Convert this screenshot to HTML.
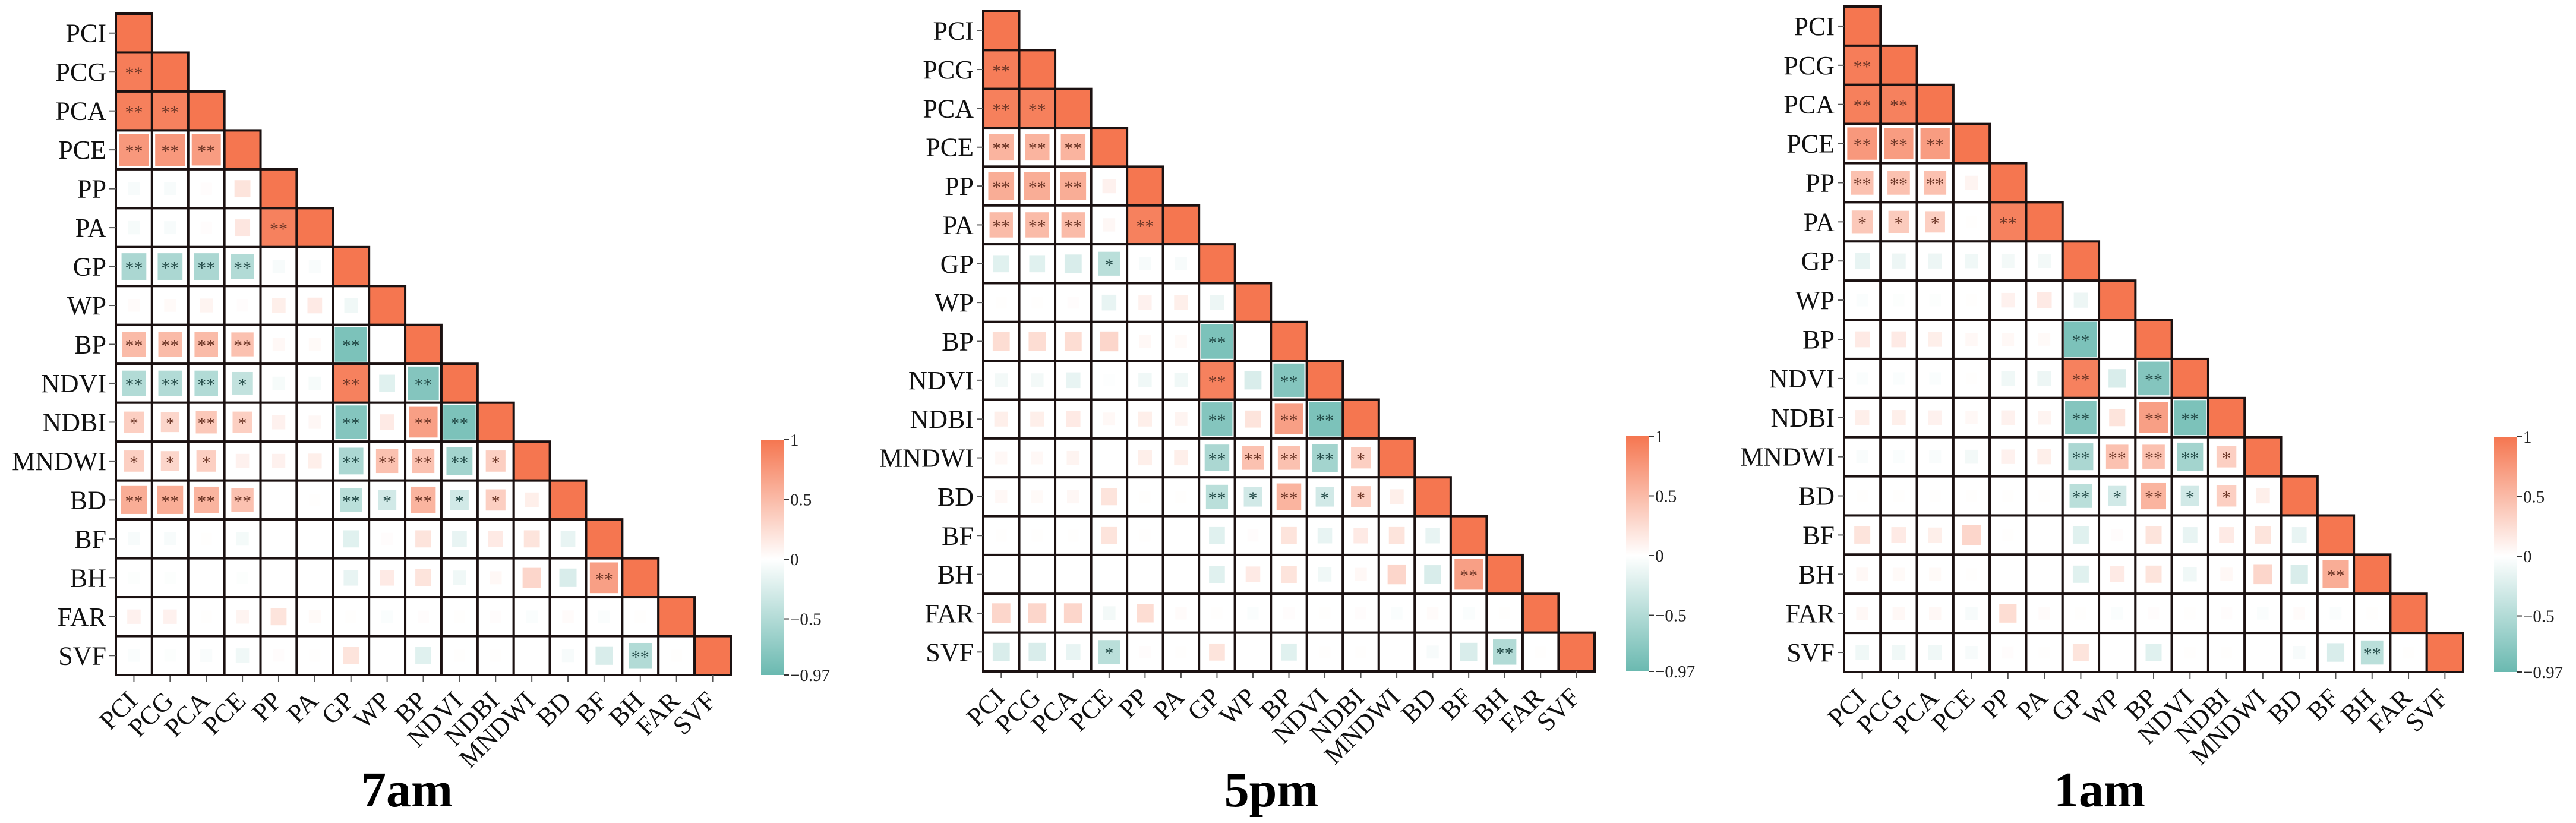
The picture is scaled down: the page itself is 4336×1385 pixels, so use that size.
<!DOCTYPE html>
<html><head><meta charset="utf-8"><style>
html,body{margin:0;padding:0;background:#fff}
svg{display:block}
text{font-family:"Liberation Serif","DejaVu Serif",serif}
</style></head><body>
<svg id="chart" width="4336" height="1385" viewBox="0 0 4336 1385" xmlns="http://www.w3.org/2000/svg">
<defs>
<linearGradient id="cbgrad" x1="0" y1="0" x2="0" y2="1">
<stop offset="0" stop-color="rgb(245,118,80)"/>
<stop offset="0.5076" stop-color="rgb(255,255,255)"/>
<stop offset="1" stop-color="rgb(106,185,176)"/>
</linearGradient>
</defs>
</svg>
<script>
const labels = ["PCI","PCG","PCA","PCE","PP","PA","GP","WP","BP","NDVI","NDBI","MNDWI","BD","BF","BH","FAR","SVF"];
const panelTitles = ["7am","5pm","1am"];
const cbTicks = [1, 0.5, 0, -0.5, -0.97];
const cbTickLabels = ["1","0.5","0","\u22120.5","\u22120.97"];

const vals7am = [
 [],
 [0.95],
 [0.93,0.92],
 [0.75,0.75,0.72],
 [-0.05,-0.05,0.02,0.2],
 [-0.06,-0.05,0.02,0.18,0.92],
 [-0.55,-0.55,-0.55,-0.5,-0.05,-0.04],
 [0.03,0.04,0.08,0.02,0.12,0.15,-0.1],
 [0.5,0.5,0.5,0.45,0.05,0.04,-0.85,0.0],
 [-0.5,-0.5,-0.5,-0.4,-0.06,-0.06,0.92,-0.2,-0.8],
 [0.35,0.3,0.4,0.35,0.1,0.06,-0.8,0.15,0.7,-0.85],
 [0.35,0.3,0.35,0.1,0.1,0.12,-0.55,0.45,0.45,-0.6,0.35],
 [0.6,0.6,0.55,0.45,0.0,0.01,-0.45,-0.3,0.55,-0.3,0.35,0.12],
 [-0.05,-0.05,0.01,-0.07,0.0,0.0,-0.2,0.02,0.2,-0.15,0.15,0.2,-0.15],
 [-0.02,-0.02,0,-0.02,0,0,-0.15,0.15,0.2,-0.1,0.05,0.3,-0.25,0.7],
 [0.1,0.1,0.01,0.08,0.2,0.04,0.01,-0.03,0.02,0.01,0.02,-0.03,0.03,-0.03,0.01],
 [-0.03,-0.02,-0.04,-0.1,0.02,0.01,0.2,0,-0.2,0.01,0.01,0,-0.05,-0.25,-0.5,0.01]
];
const sig7am = [
 "", "**", "** **", "** ** **", "- - - -", "- - - - **",
 "** ** ** ** - -", "- - - - - - -", "** ** ** ** - - ** -",
 "** ** ** * - - ** - **", "* * ** * - - ** - ** **",
 "* * * - - - ** ** ** ** *", "** ** ** ** - - ** * ** * * -",
 "", "- - - - - - - - - - - - - **", "", "- - - - - - - - - - - - - - **"
];
const vals5pm = [
 [],
 [0.95],
 [0.93,0.93],
 [0.55,0.55,0.55],
 [0.6,0.6,0.6,0.1],
 [0.5,0.5,0.5,0.06,0.92],
 [-0.2,-0.2,-0.25,-0.45,-0.05,-0.05],
 [0.01,0.01,0.02,-0.15,0.1,0.12,-0.12],
 [0.25,0.25,0.25,0.3,0.05,0.04,-0.85,0],
 [-0.08,-0.08,-0.15,-0.01,-0.1,-0.1,0.92,-0.25,-0.8],
 [0.12,0.12,0.15,0.05,0.12,0.08,-0.8,0.2,0.7,-0.85],
 [0.05,0.05,0.08,0,0.12,0.12,-0.55,0.45,0.45,-0.6,0.35],
 [0.05,0.04,0.06,0.2,0.01,0.01,-0.45,-0.3,0.55,-0.3,0.35,0.12],
 [0.01,0.01,0.01,0.2,0.01,0,-0.2,0.02,0.2,-0.15,0.15,0.2,-0.15],
 [0,0,0,0,0,0,-0.2,0.15,0.2,-0.1,0.05,0.3,-0.25,0.7],
 [0.3,0.3,0.3,-0.08,0.25,0.03,0.01,-0.03,0.02,0.01,0.02,-0.03,0.03,-0.03,0.01],
 [-0.25,-0.25,-0.15,-0.45,0.02,0.01,0.2,0,-0.2,0.01,0.01,0,-0.05,-0.25,-0.5,0.01]
];
const sig5pm = [
 "", "**", "** **", "** ** **", "** ** ** -", "** ** ** - **",
 "- - - * - -", "", "- - - - - - ** -",
 "- - - - - - ** - **", "- - - - - - ** - ** **",
 "- - - - - - ** ** ** ** *", "- - - - - - ** * ** * * -",
 "", "- - - - - - - - - - - - - **", "", "- - - * - - - - - - - - - - **"
];
const vals1am = [
 [],
 [0.95],
 [0.93,0.92],
 [0.75,0.72,0.72],
 [0.45,0.45,0.45,0.08],
 [0.4,0.38,0.35,0.01,0.92],
 [-0.15,-0.12,-0.12,-0.1,-0.08,-0.08],
 [-0.03,-0.02,-0.02,0.01,0.1,0.15,-0.12],
 [0.15,0.15,0.12,0.05,0.05,0.04,-0.85,0],
 [-0.03,-0.03,-0.03,0.01,-0.1,-0.12,0.92,-0.25,-0.8],
 [0.12,0.12,0.1,0.05,0.1,0.08,-0.8,0.2,0.7,-0.85],
 [-0.04,-0.03,-0.04,-0.08,0.1,0.12,-0.55,0.45,0.45,-0.6,0.35],
 [0.01,0.01,0.01,0.01,0.01,0.01,-0.45,-0.3,0.55,-0.3,0.35,0.12],
 [0.2,0.15,0.12,0.3,0.01,0,-0.2,0.02,0.2,-0.15,0.15,0.2,-0.15],
 [0.05,0.04,0.04,0.01,0,0,-0.2,0.15,0.2,-0.1,0.05,0.3,-0.25,0.6],
 [0.05,0.05,0.05,-0.05,0.25,0.03,0.01,-0.03,0.02,0.01,0.02,-0.03,0.03,-0.03,0.01],
 [-0.1,-0.1,-0.1,-0.05,0.02,0.01,0.2,0,-0.2,0.01,0.01,0,-0.05,-0.25,-0.45,0.01]
];
const sig1am = [
 "", "**", "** **", "** ** **", "** ** ** -", "* * * - **",
 "", "", "- - - - - - ** -",
 "- - - - - - ** - **", "- - - - - - ** - ** **",
 "- - - - - - ** ** ** ** *", "- - - - - - ** * ** * * -",
 "", "- - - - - - - - - - - - - **", "", "- - - - - - - - - - - - - - **"
];

const NS = "http://www.w3.org/2000/svg";
const svg = document.getElementById("chart");
const layouts = [
 {left:195, top:23, right:1230, bottom:1136, cbx:1281, titleX:685},
 {left:1655, top:19, right:2684, bottom:1130, cbx:2737, titleX:2140},
 {left:3104, top:11, right:4146, bottom:1131, cbx:4198, titleX:3534}
];
const panelVals = [vals7am, vals5pm, vals1am];
const panelSig = [sig7am, sig5pm, sig1am];

function mk(tag, attrs, parent){
  const e = document.createElementNS(NS, tag);
  for (const k in attrs) e.setAttribute(k, attrs[k]);
  parent.appendChild(e);
  return e;
}
function colorFor(r){
  const t = Math.min(1, Math.abs(r) / (r >= 0 ? 1 : 0.97));
  const c = r >= 0 ? [245,118,80] : [106,185,176];
  const m = c.map(v => Math.round(255 + (v - 255) * t));
  return `rgb(${m[0]},${m[1]},${m[2]})`;
}

layouts.forEach((L, p) => {
  const n = labels.length;
  const cw = (L.right - L.left) / n, ch = (L.bottom - L.top) / n;
  const xPos = j => L.left + j * cw;
  const yPos = i => L.top + i * ch;
  const g = mk("g", {}, svg);
  
  
  const vals = panelVals[p], sigs = panelSig[p];
  for (let i = 0; i < n; i++) {
    const sigRow = sigs[i] ? sigs[i].split(" ") : [];
    for (let j = 0; j <= i; j++) {
      const x = xPos(j), y = yPos(i);
      const cell = mk("rect", {x:x, y:y, width:cw, height:ch, fill: i===j ? "rgb(245,118,80)" : "#fff"}, g);
      
      
      if (i !== j) {
        const r = vals[i][j];
        const f = 0.3 + 0.7 * Math.abs(r);
        const w = cw * f, h = ch * f;
        if (Math.abs(r) > 0.005) {
          const inner = mk("rect", {x: x + (cw - w)/2, y: y + (ch - h)/2, width: w, height: h, fill: colorFor(r)}, g);
          
          
        }
        const s = sigRow[j];
        if (s && s !== "-") {
          const t = mk("text", {x: x + cw/2, y: y + ch/2 + 12, "text-anchor":"middle", "font-size":30, fill: r >= 0 ? "#6b3526" : "#234a47"}, g);
          t.textContent = s;
          
          
        }
      }
      mk("rect", {x:x, y:y, width:cw, height:ch, fill:"none", stroke:"#1b1111", "stroke-width":4}, g);
    }
    mk("line", {x1:L.left - 11, x2:L.left, y1:yPos(i)+ch/2, y2:yPos(i)+ch/2, stroke:"#555", "stroke-width":2}, g);
    const rl = mk("text", {x:L.left - 16, y:yPos(i)+ch/2+15, "text-anchor":"end", "font-size":44, fill:"#111"}, g);
    rl.textContent = labels[i];
    
    
    const cx = xPos(i) + cw/2;
    mk("line", {x1:cx, x2:cx, y1:L.bottom, y2:L.bottom + 11, stroke:"#555", "stroke-width":2}, g);
    const cl = mk("text", {x:0, y:0, "text-anchor":"end", "font-size":44, fill:"#111",
      transform:`translate(${cx + 8},${L.bottom + 46}) rotate(-45)`}, g);
    cl.textContent = labels[i];
    
    
  }
  const cbBottom = L.bottom, cbTop = L.bottom - 396, cbw = 39;
  const cbY = v => cbTop + (1 - v) / 1.97 * (cbBottom - cbTop);
  const cb = mk("rect", {x:L.cbx, y:cbTop, width:cbw, height:cbBottom - cbTop, fill:"url(#cbgrad)"}, g);
  
  
  cbTicks.forEach((v, k) => {
    const y = cbY(v);
    mk("line", {x1:L.cbx + cbw, x2:L.cbx + cbw + 8, y1:y, y2:y, stroke:"#333", "stroke-width":2}, g);
    const t = mk("text", {x:L.cbx + cbw + 10, y:y + 10, "font-size":29, fill:"#222"}, g);
    t.textContent = cbTickLabels[k];
    
    
  });
  const tt = mk("text", {x:L.titleX, y:1357, "text-anchor":"middle", "font-size":84, "font-weight":"bold", fill:"#000"}, g);
  tt.textContent = panelTitles[p];
  
  
});
</script>
</body></html>
